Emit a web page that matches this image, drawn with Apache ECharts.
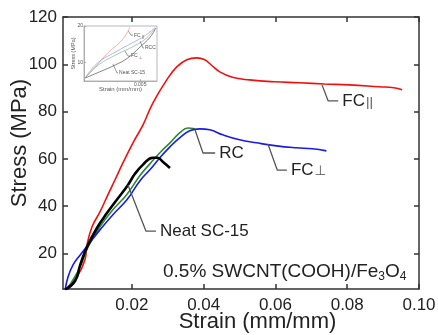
<!DOCTYPE html>
<html>
<head>
<meta charset="utf-8">
<script src="https://cdn.jsdelivr.net/npm/echarts@6/dist/echarts.min.js"></script>
<style>
    html, body { margin: 0; padding: 0; background: #fff; }
    #main { width: 438px; height: 335px; }
</style>
</head>
<body>
<div id="main"></div>
<script>
// main plot ticks
var strainTicks = [0.02, 0.04, 0.06, 0.08, 0.10];
var stressTicks = [20, 40, 60, 80, 100, 120];

// FC|| (red)
var fcParStrain = [0.0014, 0.0019, 0.0047, 0.0069, 0.0075, 0.0089, 0.0111, 0.0133, 0.0153, 0.0175, 0.0203, 0.0231, 0.0258, 0.0297, 0.0325, 0.0353, 0.038, 0.0403, 0.0422, 0.0444, 0.048, 0.0528, 0.0597, 0.0667, 0.0736, 0.0806, 0.0889, 0.093, 0.0953];
var fcParStress = [4.5, 5.5, 10.1, 17.3, 23.7, 31.3, 37.6, 44.8, 51.2, 58.3, 66.8, 74.4, 83.5, 93.4, 98.9, 101.9, 102.7, 101.9, 99.6, 96.9, 94.5, 93.4, 92.6, 92.2, 91.7, 91.3, 90.5, 90.1, 89.2];

// FC⊥ (blue)
var fcPerStrain = [0.0014, 0.0022, 0.0036, 0.0056, 0.0078, 0.0111, 0.0147, 0.0186, 0.0222, 0.025, 0.0278, 0.0306, 0.0333, 0.0361, 0.0389, 0.0417, 0.0453, 0.05, 0.0547, 0.0603, 0.0658, 0.0703, 0.0742];
var fcPerStress = [4.7, 10.1, 15.2, 19.4, 23.7, 30.0, 36.4, 42.7, 50.7, 55.4, 60.5, 65.1, 68.9, 71.9, 72.7, 72.3, 70.2, 68.1, 66.8, 65.5, 64.7, 64.3, 63.4];

// RC (green)
var rcStrain = [0.0019, 0.0036, 0.0056, 0.0078, 0.0111, 0.0147, 0.0186, 0.0222, 0.025, 0.0278, 0.0306, 0.0333, 0.0356, 0.0375];
var rcStress = [4.7, 8.9, 14.4, 22.8, 31.3, 38.5, 45.0, 52.9, 57.9, 62.6, 66.8, 71.0, 73.1, 72.7];

// Neat SC-15 (black)
var neatStrain = [0.0014, 0.0042, 0.0056, 0.0075, 0.0103, 0.0131, 0.0158, 0.0189, 0.0208, 0.0231, 0.0258, 0.0272, 0.0286, 0.0306];
var neatStress = [4.7, 8.5, 15.2, 22.8, 30.9, 37.2, 42.7, 49.0, 53.6, 57.6, 60.5, 60.5, 58.8, 56.2];

// inset (initial region)
var insetStrainTicks = [0.005];
var insetStressTicks = [10, 20];
var inRedStrain = [0.0001, 0.001, 0.0021, 0.0034, 0.0041];
var inRedStress = [5.8, 8.8, 12.6, 16.2, 19.7];
var inBlueStrain = [0.0001, 0.0012, 0.0028, 0.0043, 0.0054, 0.0063];
var inBlueStress = [5.8, 9.9, 12.9, 15.4, 17.3, 19.5];
var inGreenStrain = [0.0001, 0.0013, 0.0029, 0.0045, 0.0056, 0.0063];
var inGreenStress = [5.8, 9.4, 12.2, 14.6, 16.8, 19.4];
var inNeatStrain = [0.0001, 0.0014, 0.0028, 0.0039, 0.005, 0.0059, 0.0064];
var inNeatStress = [5.8, 7.5, 9.4, 11.3, 14.3, 17.0, 19.5];

var FONT = 'Liberation Sans, Arial, DejaVu Sans, sans-serif';

function zip(xs, ys) {
    return xs.map(function (x, i) {
        return [x, ys[i]];
    });
}

function curve(name, xs, ys, color, width, axis) {
    return {
        name: name,
        type: 'line',
        xAxisIndex: axis,
        yAxisIndex: axis,
        smooth: 0.45,
        symbol: 'none',
        z: axis === 0 ? 2 : 8,
        lineStyle: { color: color, width: width },
        data: zip(xs, ys)
    };
}

// leader line with its label at the end
function leader(xs, ys, label, axis, size) {
    return {
        type: 'line',
        xAxisIndex: axis,
        yAxisIndex: axis,
        symbol: 'none',
        silent: true,
        z: axis === 0 ? 3 : 9,
        lineStyle: { color: '#555', width: axis === 0 ? 1.3 : 0.6 },
        data: zip(xs, ys),
        endLabel: {
            show: true,
            formatter: label,
            distance: axis === 0 ? 4 : 1,
            color: axis === 0 ? '#222' : '#555',
            fontFamily: FONT,
            fontSize: size,
            rich: {
                p: { fontSize: size * 0.8, color: '#555', fontFamily: FONT, padding: [3, 0, 0, 1] }
            }
        }
    };
}

function mirrorAxis(pos, min, max, ticks) {
    return {
        type: 'value',
        gridIndex: 0,
        position: pos,
        min: min,
        max: max,
        axisLine: { show: true, onZero: false, lineStyle: { color: '#333', width: 1.5 } },
        axisTick: { show: true, inside: true, length: 5, customValues: ticks, lineStyle: { color: '#333', width: 1.5 } },
        axisLabel: { show: false },
        splitLine: { show: false }
    };
}

var chart = echarts.init(document.getElementById('main'));
var option = {
    backgroundColor: '#fff',
    animation: false,
    title: {
        text: '0.5% SWCNT(COOH)/Fe{sub|3}O{sub|4}',
        left: 158,
        top: 256,
        textStyle: {
            fontFamily: FONT,
            fontSize: 19,
            fontWeight: 'normal',
            color: '#222',
            rich: {
                sub: { fontSize: 12, fontFamily: FONT, color: '#222', padding: [10, 0, 0, 0] }
            }
        }
    },
    grid: [
        { left: 63, top: 17, width: 356, height: 272, outerBoundsMode: 'none', containLabel: false },
        { left: 84, top: 26, width: 73, height: 55, outerBoundsMode: 'none', containLabel: false, show: true, backgroundColor: '#fff', borderColor: '#999', borderWidth: 0.7, z: 5 }
    ],
    xAxis: [{
        type: 'value',
        gridIndex: 0,
        min: 0.0008,
        max: 0.1,
        name: 'Strain (mm/mm)',
        nameLocation: 'middle',
        nameGap: 22,
        nameMoveOverlap: false,
        nameTextStyle: { fontFamily: FONT, fontSize: 22, color: '#222', padding: [0, 0, 0, 33] },
        axisLine: { onZero: false, lineStyle: { color: '#333', width: 1.5 } },
        axisTick: { inside: true, length: 5, customValues: strainTicks, lineStyle: { color: '#333', width: 1.5 } },
        axisLabel: {
            customValues: strainTicks,
            margin: 8,
            fontFamily: FONT,
            fontSize: 17,
            color: '#222',
            formatter: function (v) {
                return v.toFixed(2);
            }
        },
        splitLine: { show: false }
    },
    mirrorAxis('top', 0.0008, 0.1, strainTicks),
    {
        type: 'value',
        gridIndex: 1,
        min: 0,
        max: 0.0065,
        name: 'Strain (mm/mm)',
        nameLocation: 'middle',
        nameGap: 5,
        nameMoveOverlap: false,
        nameTextStyle: { fontFamily: FONT, fontSize: 6, color: '#555' },
        axisLine: { onZero: false, lineStyle: { color: '#999', width: 0.7 } },
        axisTick: { inside: true, length: 2, customValues: insetStrainTicks, lineStyle: { color: '#999', width: 0.7 } },
        axisLabel: { customValues: insetStrainTicks, margin: 1, fontFamily: FONT, fontSize: 5, color: '#555' },
        splitLine: { show: false },
        z: 6
    }],
    yAxis: [{
        type: 'value',
        gridIndex: 0,
        min: 5,
        max: 120,
        name: 'Stress (MPa)',
        nameLocation: 'middle',
        nameGap: 32,
        nameMoveOverlap: false,
        nameTextStyle: { fontFamily: FONT, fontSize: 22, color: '#222', padding: [0, 0, 0, 20] },
        axisLine: { show: true, onZero: false, lineStyle: { color: '#333', width: 1.5 } },
        axisTick: { show: true, inside: true, length: 5, customValues: stressTicks, lineStyle: { color: '#333', width: 1.5 } },
        axisLabel: { customValues: stressTicks, margin: 6, fontFamily: FONT, fontSize: 17, color: '#222' },
        splitLine: { show: false }
    },
    mirrorAxis('right', 5, 120, stressTicks),
    {
        type: 'value',
        gridIndex: 1,
        min: 5,
        max: 20,
        name: 'Stress (MPa)',
        nameLocation: 'middle',
        nameGap: 8,
        nameMoveOverlap: false,
        nameTextStyle: { fontFamily: FONT, fontSize: 5.5, color: '#555' },
        axisLine: { show: true, onZero: false, lineStyle: { color: '#999', width: 0.7 } },
        axisTick: { show: true, inside: true, length: 2, customValues: insetStressTicks, lineStyle: { color: '#999', width: 0.7 } },
        axisLabel: { customValues: insetStressTicks, margin: 1, fontFamily: FONT, fontSize: 5, color: '#555' },
        splitLine: { show: false },
        z: 6
    }],
    series: [
        curve('FC||', fcParStrain, fcParStress, '#f01010', 1.6, 0),
        curve('RC', rcStrain, rcStress, '#2a8c2a', 1.6, 0),
        curve('FC⊥', fcPerStrain, fcPerStress, '#1a1ae6', 1.6, 0),
        curve('Neat SC-15', neatStrain, neatStress, '#000', 2.6, 0),
        leader([0.0730, 0.0747, 0.0775], [91.2, 84.5, 84.5], 'FC{p|||}', 0, 17),
        leader([0.0376, 0.0398, 0.0432], [72.2, 62.5, 62.5], 'RC', 0, 17),
        leader([0.0579, 0.0605, 0.0632], [66.3, 55.3, 55.3], 'FC{p|⊥}', 0, 17),
        leader([0.0189, 0.0239, 0.0267], [49.0, 29.5, 29.5], 'Neat SC-15', 0, 17),
        curve('in-red', inRedStrain, inRedStress, '#ee9a9a', 0.8, 2),
        curve('in-green', inGreenStrain, inGreenStress, '#9ab89a', 0.8, 2),
        curve('in-blue', inBlueStrain, inBlueStress, '#98a8dc', 0.8, 2),
        curve('in-neat', inNeatStrain, inNeatStress, '#666', 0.8, 2),
        leader([0.00396, 0.00418, 0.00436], [18.6, 17.5, 17.5], 'FC{p|||}', 2, 5),
        leader([0.00499, 0.00525, 0.00534], [15.9, 14.0, 14.0], 'RCC', 2, 5),
        leader([0.00365, 0.00392, 0.0041], [13.2, 11.8, 11.8], 'FC{p|⊥}', 2, 5),
        leader([0.00258, 0.00294, 0.00303], [9.6, 7.2, 7.2], 'Neat SC-15', 2, 5)
    ]
};
chart.setOption(option);
</script>
</body>
</html>
